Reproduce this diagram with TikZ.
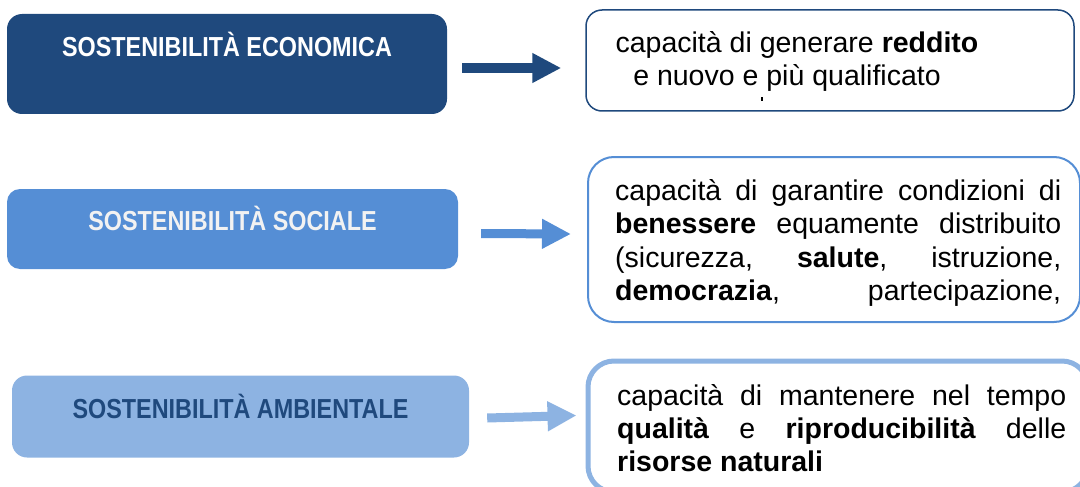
\documentclass[tikz,border=0pt]{standalone}
\usepackage{fontspec}
\setmainfont{Liberation Sans}
\newfontfamily\narrow[FakeStretch=0.85]{Liberation Sans}
\usetikzlibrary{arrows.meta,calc}
\definecolor{dblue}{HTML}{1F497D}
\definecolor{mblue}{HTML}{558ED5}
\definecolor{lblue}{HTML}{8DB3E2}
\definecolor{lgray}{HTML}{F2F2F2}
\tikzset{
  leftbox/.style={draw=none, rectangle, inner sep=0pt},
  lefttext/.style={anchor=base, inner sep=0pt, font=\narrow\bfseries\fontsize{27.5pt}{33pt}\selectfont},
  rightbox/.style={rectangle, fill=white, inner sep=0pt},
  body/.style={anchor=base west, inner sep=0pt, text=black, font=\fontsize{28.5pt}{33pt}\selectfont},
  bodyc/.style={anchor=base, inner sep=0pt, text=black, font=\fontsize{28.5pt}{33pt}\selectfont},
  fatarrow/.style={line width=#1, -{Triangle[length=29pt,width=28pt]}},
}
\begin{document}
\begin{tikzpicture}[x=1pt,y=-1pt]
\useasboundingbox (0,0) rectangle (1080,487);
\clip (0,0) rectangle (1080,487);
% left boxes
\node[leftbox, fill=dblue, rounded corners=15pt, minimum width=440pt, minimum height=100pt] (b1) at (227,64) {};
\node[lefttext, text=white] (b1t) at (227,56.5) {SOSTENIBILITÀ ECONOMICA};
\node[leftbox, fill=mblue, rounded corners=13pt, minimum width=451pt, minimum height=80pt] (b2) at (232.5,229) {};
\node[lefttext, text=lgray] (b2t) at (232.5,230) {SOSTENIBILITÀ SOCIALE};
\node[leftbox, fill=lblue, rounded corners=15pt, minimum width=457pt, minimum height=82pt] (b3) at (240.5,416.5) {};
\node[lefttext, text=dblue] (b3t) at (240.5,418) {SOSTENIBILITÀ AMBIENTALE};
% right boxes
\node[rightbox, draw=dblue, line width=1.5pt, rounded corners=16pt, minimum width=488pt, minimum height=101pt] (r1) at (830,60.5) {};
\node[rightbox, draw=mblue, line width=2pt, rounded corners=26pt, minimum width=492pt, minimum height=165pt] (r2) at (834,239.5) {};
\node[rightbox, draw=lblue, line width=5pt, rounded corners=26pt, minimum width=500pt, minimum height=131pt] (r3) at (838,426.5) {};
% texts box 1
\node[bodyc] (t11) at (797,52.5) {capacità di generare \textbf{reddito}};
\node[bodyc] (t12) at (787,85.5) {e nuovo e più qualificato};
\fill[black] (761,97) rectangle (763,101);
% texts box 2
\node[body] (t21) at (615,200) {\makebox[446pt][s]{capacità di garantire condizioni di}};
\node[body] (t22) at (615,233.5) {\makebox[446pt][s]{\textbf{benessere} equamente distribuito}};
\node[body] (t23) at (615,267) {\makebox[446pt][s]{(sicurezza, \textbf{salute}, istruzione,}};
\node[body] (t24) at (615,300) {\makebox[446pt][s]{\textbf{democrazia}, partecipazione,}};
% texts box 3
\node[body] (t31) at (617,405.5) {\makebox[449pt][s]{capacità di mantenere nel tempo}};
\node[body] (t32) at (617,438.5) {\makebox[449pt][s]{\textbf{qualità} e \textbf{riproducibilità} delle}};
\node[body] (t33) at (617,471.5) {\textbf{risorse naturali}};
% arrows
\draw[fatarrow=10pt, draw=dblue, fill=dblue] ($(b1.east)+(15,4)$) -- ($(r1.west)+(-24,7.5)$);
\draw[fatarrow=9pt, draw=mblue, fill=mblue] ($(b2.east)+(23,4.5)$) -- ($(r2.west)+(-16,-5.5)$);
\draw[fatarrow=9pt, draw=lblue, fill=lblue] ($(b3.east)+(18,1.5)$) -- ($(r3.west)+(-9,-11)$);
\end{tikzpicture}
\end{document}
